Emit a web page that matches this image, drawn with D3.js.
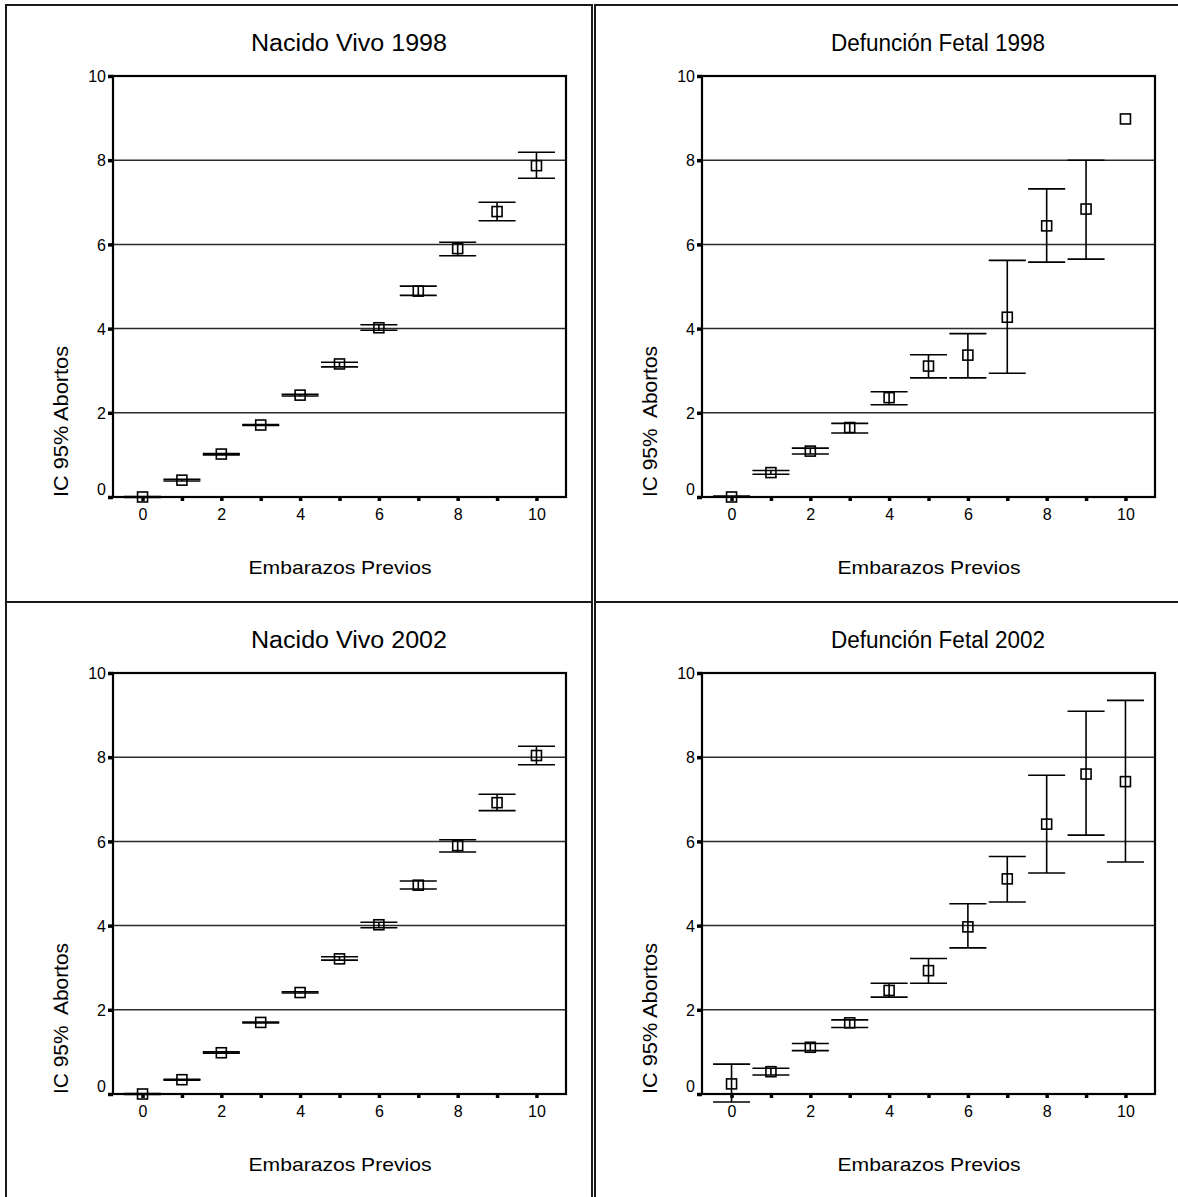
<!DOCTYPE html>
<html>
<head>
<meta charset="utf-8">
<script src="https://cdn.jsdelivr.net/npm/d3@7"></script>
<style>
  html, body { margin: 0; padding: 0; background: #fff; }
  svg { display: block; font-family: Arial, "Liberation Sans", sans-serif; }
  text { white-space: pre; }
</style>
</head>
<body>
<svg id="chart" width="1178" height="1197"></svg>
<script>
// ---------- data ----------
const categories = [0, 1, 2, 3, 4, 5, 6, 7, 8, 9, 10];
const xTickLabels = ["0", "", "2", "", "4", "", "6", "", "8", "", "10"];
const yTicks = [0, 2, 4, 6, 8, 10];
const gridValues = [2, 4, 6, 8];

const titles = ["Nacido Vivo 1998", "Defunción Fetal 1998", "Nacido Vivo 2002", "Defunción Fetal 2002"];
const yTitles = ["IC 95% Abortos", "IC 95%  Abortos", "IC 95%  Abortos", "IC 95% Abortos"];
const xTitle = "Embarazos Previos";

const nv1998Mean = [0.00, 0.40, 1.02, 1.71, 2.42, 3.16, 4.02, 4.89, 5.90, 6.78, 7.87];
const nv1998Lo   = [-0.01, 0.38, 1.00, 1.70, 2.40, 3.09, 3.96, 4.79, 5.73, 6.56, 7.57];
const nv1998Hi   = [0.01, 0.42, 1.03, 1.72, 2.44, 3.20, 4.09, 5.01, 6.05, 7.00, 8.19];

const df1998Mean = [0.00, 0.58, 1.09, 1.65, 2.36, 3.11, 3.37, 4.27, 6.44, 6.84, 8.98];
const df1998Lo   = [0.00, 0.54, 1.02, 1.52, 2.19, 2.83, 2.83, 2.94, 5.58, 5.65, null];
const df1998Hi   = [0.02, 0.63, 1.16, 1.75, 2.50, 3.38, 3.88, 5.62, 7.32, 8.00, null];

const nv2002Mean = [0.00, 0.34, 0.98, 1.70, 2.41, 3.21, 4.02, 4.96, 5.90, 6.92, 8.04];
const nv2002Lo   = [-0.01, 0.33, 0.97, 1.69, 2.40, 3.18, 3.95, 4.87, 5.75, 6.73, 7.82];
const nv2002Hi   = [0.01, 0.35, 1.00, 1.71, 2.43, 3.26, 4.08, 5.06, 6.04, 7.12, 8.26];

const df2002Mean = [0.24, 0.53, 1.11, 1.69, 2.46, 2.93, 3.97, 5.11, 6.41, 7.60, 7.42];
const df2002Lo   = [-0.19, 0.45, 1.03, 1.58, 2.30, 2.63, 3.47, 4.56, 5.25, 6.15, 5.51];
const df2002Hi   = [0.71, 0.61, 1.20, 1.76, 2.63, 3.22, 4.52, 5.64, 7.57, 9.09, 9.35];

const seriesMean = [nv1998Mean, df1998Mean, nv2002Mean, df2002Mean];
const seriesLo = [nv1998Lo, df1998Lo, nv2002Lo, df2002Lo];
const seriesHi = [nv1998Hi, df1998Hi, nv2002Hi, df2002Hi];

// ---------- layout ----------
const svg = d3.select("#chart");
svg.append("rect").attr("width", 1178).attr("height", 1197).attr("fill", "#fff");

const origins = [[6, 5], [595, 5], [6, 602], [595, 602]];
const boxW = [586, 600, 586, 600];
const boxH = [597, 597, 600, 600];
const L = 107, T = 71, W = 453, H = 421;

const x = d3.scaleLinear().domain([-0.75, 10.75]).range([0, W]);
const y = d3.scaleLinear().domain([0, 10]).range([H, 0]);

origins.forEach((o, p) => {
  const g = svg.append("g").attr("transform", `translate(${o[0]},${o[1]})`);

  // panel border
  g.append("rect")
    .attr("x", 0).attr("y", 0).attr("width", boxW[p]).attr("height", boxH[p])
    .attr("fill", "none").attr("stroke", "#1a1a1a").attr("stroke-width", 2);

  // title
  g.append("text")
    .attr("x", 343).attr("y", 46)
    .attr("text-anchor", "middle")
    .attr("font-size", 23)
    .attr("textLength", p % 2 === 0 ? 196 : 214)
    .attr("lengthAdjust", "spacingAndGlyphs")
    .text(titles[p]);

  const plot = g.append("g").attr("transform", `translate(${L},${T})`);

  // gridlines
  plot.selectAll("line.grid").data(gridValues).enter().append("line")
    .attr("class", "grid")
    .attr("x1", 0).attr("x2", W)
    .attr("y1", d => y(d)).attr("y2", d => y(d))
    .attr("stroke", "#2a2a2a").attr("stroke-width", 1.5);

  // y axis
  const yAxis = plot.append("g").call(
    d3.axisLeft(y).tickValues(yTicks).tickSize(5).tickPadding(2).tickFormat(d3.format("d"))
  );
  yAxis.select(".domain").remove();
  yAxis.selectAll(".tick line").attr("stroke", "#000").attr("stroke-width", 3.5);
  yAxis.selectAll(".tick text")
    .attr("font-size", 16).attr("font-family", "Arial, 'Liberation Sans', sans-serif")
    .attr("fill", "#000")
    .attr("dy", d => d === 0 ? "-0.15em" : "0.35em");

  // x axis
  const xAxis = plot.append("g").attr("transform", `translate(0,${H})`).call(
    d3.axisBottom(x).tickValues(categories).tickSize(4).tickPadding(8)
      .tickFormat((d, i) => xTickLabels[i])
  );
  xAxis.select(".domain").remove();
  xAxis.selectAll(".tick line").attr("stroke", "#000").attr("stroke-width", 3.5);
  xAxis.selectAll(".tick text")
    .attr("font-size", 16).attr("font-family", "Arial, 'Liberation Sans', sans-serif")
    .attr("fill", "#000").attr("dy", "0.71em");

  // frame
  plot.append("rect")
    .attr("x", 0).attr("y", 0).attr("width", W).attr("height", H)
    .attr("fill", "none").attr("stroke", "#000").attr("stroke-width", 2.2);

  // error bars
  const rows = categories.map((c, i) => ({
    c, m: seriesMean[p][i], lo: seriesLo[p][i], hi: seriesHi[p][i]
  }));
  const capHalf = 0.47;
  const eb = plot.append("g").attr("stroke", "#000").attr("stroke-width", 1.6);
  rows.filter(r => r.lo !== null).forEach(r => {
    eb.append("line")
      .attr("x1", x(r.c)).attr("x2", x(r.c))
      .attr("y1", y(r.lo)).attr("y2", y(r.hi));
    eb.append("line")
      .attr("x1", x(r.c - capHalf)).attr("x2", x(r.c + capHalf))
      .attr("y1", y(r.lo)).attr("y2", y(r.lo));
    eb.append("line")
      .attr("x1", x(r.c - capHalf)).attr("x2", x(r.c + capHalf))
      .attr("y1", y(r.hi)).attr("y2", y(r.hi));
  });

  // mean markers
  const s = 10;
  plot.selectAll("rect.mark").data(rows).enter().append("rect")
    .attr("class", "mark")
    .attr("x", d => x(d.c) - s / 2).attr("y", d => y(d.m) - s / 2)
    .attr("width", s).attr("height", s)
    .attr("fill", "none").attr("stroke", "#000").attr("stroke-width", 1.6);

  // axis titles
  g.append("text")
    .attr("x", 334).attr("y", 569)
    .attr("text-anchor", "middle")
    .attr("font-size", 19)
    .attr("textLength", 183)
    .attr("lengthAdjust", "spacingAndGlyphs")
    .text(xTitle);

  g.append("text")
    .attr("transform", `translate(61.5,${T + H}) rotate(-90)`)
    .attr("text-anchor", "start")
    .attr("font-size", 21)
    .attr("textLength", 151)
    .attr("lengthAdjust", "spacingAndGlyphs")
    .text(yTitles[p]);
});
</script>
</body>
</html>
